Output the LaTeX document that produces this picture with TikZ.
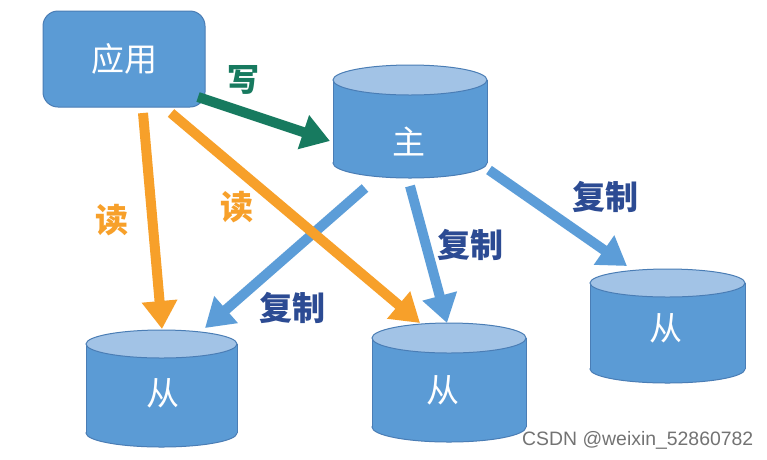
\documentclass[tikz,border=0pt]{standalone}
\usepackage{fontspec}
\setsansfont{Liberation Sans}
\newfontfamily\cjk{Noto Sans CJK SC}
\usetikzlibrary{arrows.meta}
\definecolor{boxblue}{HTML}{5B9BD5}
\definecolor{topblue}{HTML}{A2C3E6}
\definecolor{edgeblue}{HTML}{4A7DB5}
\definecolor{readorange}{HTML}{F7A02A}
\definecolor{writegreen}{HTML}{177A5F}
\definecolor{copyblue}{HTML}{5C9DD8}
\definecolor{labelblue}{HTML}{2C4B93}
\newcommand\dbdraw[5]{%
  \fill[boxblue,draw=edgeblue,line width=1pt] (#1,#3) ellipse [x radius=#4pt, y radius=#5pt];
  \fill[boxblue] (#1-#4,#2) rectangle (#1+#4,#3);
  \draw[edgeblue,line width=1pt] (#1-#4,#2) -- (#1-#4,#3) (#1+#4,#2) -- (#1+#4,#3);
  \filldraw[fill=topblue,draw=edgeblue,line width=1pt] (#1,#2) ellipse [x radius=#4pt, y radius=#5pt];
}
\tikzset{
  inner/.style={text=white,font=\cjk\fontsize{33}{33}\selectfont,inner sep=0pt},
  appbox/.style={inner,rounded corners=15pt,fill=boxblue,draw=edgeblue,line width=1pt,minimum width=162pt,minimum height=96pt},
  readarrow/.style={draw=readorange,line width=10pt,-{Triangle[length=28pt,width=34pt]}},
  writearrow/.style={draw=writegreen,line width=10pt,-{Triangle[length=28pt,width=34pt]}},
  copyarrow/.style={draw=copyblue,line width=10pt,-{Triangle[length=28pt,width=34pt]}},
  readlbl/.style={text=readorange,font=\cjk\bfseries\fontsize{33}{33}\selectfont,inner sep=0pt},
  writelbl/.style={text=writegreen,font=\cjk\bfseries\fontsize{32}{32}\selectfont,inner sep=0pt},
  copylbl/.style={text=labelblue,font=\cjk\bfseries\fontsize{33}{33}\selectfont,inner sep=0pt},
}
\begin{document}
\begin{tikzpicture}[x=1pt,y=-1pt]
\useasboundingbox[fill=white] (0,0) rectangle (767,459);
% application box
\node[appbox] (app) at (124,59) {应用};
% databases
\dbdraw{410}{80}{163}{77}{15}
\node[inner] (m) at (409,141) {主};
\dbdraw{161.5}{344}{433}{75.5}{14}
\node[inner] (s1) at (163,393) {从};
\dbdraw{449}{338}{427}{77}{15}
\node[inner] (s2) at (443,390) {从};
\dbdraw{667.5}{283}{369}{77.5}{14}
\node[inner] (s3) at (666,328) {从};
% connector end points
\coordinate (w1) at (198,97);
\coordinate (w2) at (330,141);
\coordinate (r1a) at (143,113);
\coordinate (r1b) at (162,329);
\coordinate (r2a) at (171,113);
\coordinate (r2b) at (420,323);
\coordinate (c1a) at (365,188);
\coordinate (c1b) at (205,328);
\coordinate (c2a) at (410,186);
\coordinate (c2b) at (447,323);
\coordinate (c3a) at (489,170);
\coordinate (c3b) at (627,266);
% connectors
\draw[copyarrow] (c1a) -- (c1b);
\draw[copyarrow] (c2a) -- (c2b);
\draw[copyarrow] (c3a) -- (c3b);
\draw[readarrow] (r1a) -- (r1b);
\draw[readarrow] (r2a) -- (r2b);
\draw[writearrow] (w1) -- (w2);
% labels
\node[writelbl] (lw) at (243,80) {写};
\node[readlbl] (lr1) at (112,220) {读};
\node[readlbl] (lr2) at (237,207) {读};
\node[copylbl] (lc1) at (292,308) {复制};
\node[copylbl] (lc2) at (470,245) {复制};
\node[copylbl] (lc3) at (605,197) {复制};
% watermark
\node[text=black!55,font=\sffamily\fontsize{19.4}{19.4}\selectfont,inner sep=0pt,anchor=west] (wm) at (522,440) {CSDN @weixin\_52860782};
\end{tikzpicture}
\end{document}
